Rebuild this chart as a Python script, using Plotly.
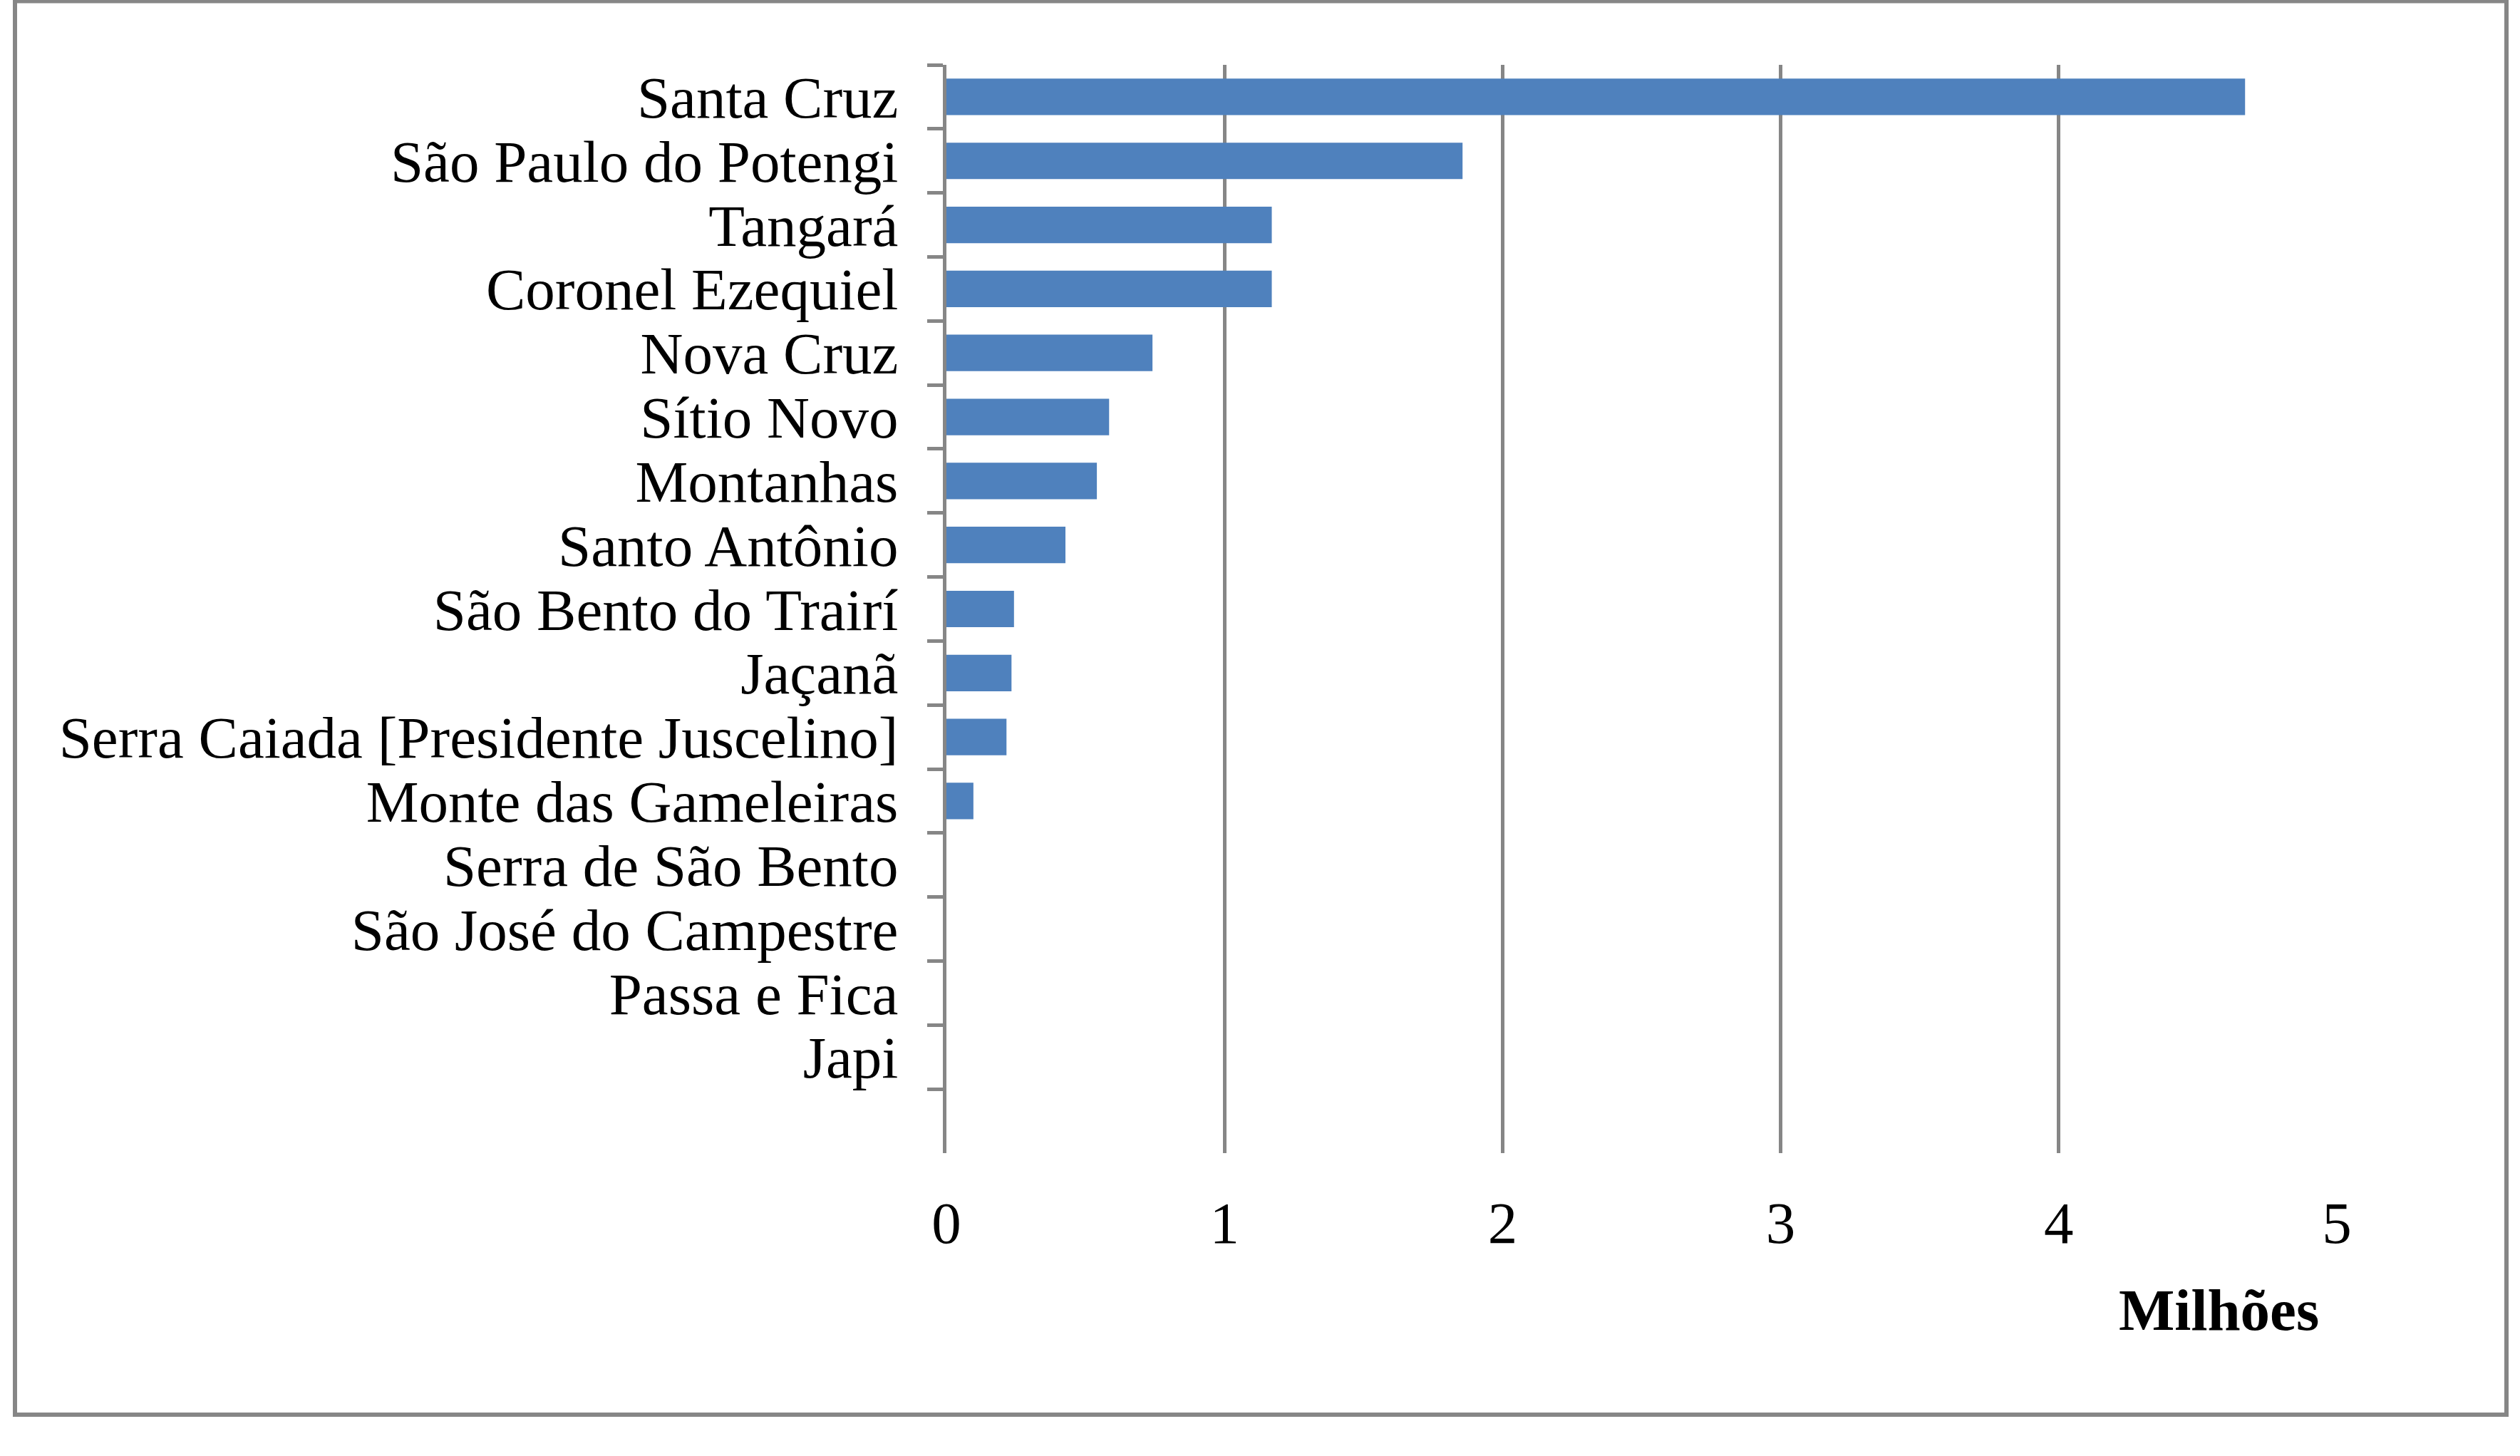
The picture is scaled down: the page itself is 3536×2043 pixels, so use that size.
import plotly.graph_objects as go

# ---- data ----
categories = [
    "Santa Cruz", "São Paulo do Potengi", "Tangará", "Coronel Ezequiel",
    "Nova Cruz", "Sítio Novo", "Montanhas", "Santo Antônio",
    "São Bento do Trairí", "Jaçanã", "Serra Caiada [Presidente Juscelino]",
    "Monte das Gameleiras", "Serra de São Bento", "São José do Campestre",
    "Passa e Fica", "Japi", " ",
]
values_millions = [
    4.67, 1.856, 1.17, 1.17,
    0.741, 0.585, 0.541, 0.428,
    0.243, 0.234, 0.216,
    0.097, 0, 0,
    0, 0, None,
]
x_tick_values = [0, 1, 2, 3, 4, 5]
x_tick_labels = ["0", "1", "2", "3", "4", "5"]
x_unit_label = "Milhões"

# ---- geometry (pixels) ----
W, H = 3536, 2043
PL, PR, PT, PB = 1328, 3279, 91, 1618
GRAY = "#868686"
FONT = "Liberation Serif"
FS = 83


def px_x(x):
    return (x - PL) / (PR - PL)


def px_y(y):
    return (PB - y) / (PB - PT)


fig = go.Figure(
    go.Bar(
        x=values_millions,
        y=categories,
        orientation="h",
        marker=dict(color="#4F81BD", line=dict(width=0)),
        hoverinfo="x+y",
    )
)

fig.update_layout(
    width=W,
    height=H,
    margin=dict(l=PL, r=W - PR, t=PT, b=H - PB, autoexpand=False),
    paper_bgcolor="white",
    plot_bgcolor="white",
    bargap=0.43,
    showlegend=False,
    font=dict(family=FONT, size=FS, color="black"),
    xaxis=dict(
        range=[0, 5],
        tickvals=x_tick_values,
        ticktext=x_tick_labels,
        showgrid=True,
        gridcolor=GRAY,
        gridwidth=5,
        zeroline=False,
        showline=False,
        ticks="outside",
        ticklen=25,
        tickcolor="rgba(0,0,0,0)",
        tickfont=dict(family=FONT, size=FS, color="black"),
        automargin=False,
    ),
    yaxis=dict(
        type="category",
        categoryorder="array",
        categoryarray=categories,
        range=[len(categories) - 0.5, -0.5],
        tickmode="linear",
        tick0=0,
        dtick=1,
        showgrid=False,
        zeroline=False,
        showline=True,
        linecolor=GRAY,
        linewidth=5,
        ticks="outside",
        tickson="boundaries",
        ticklen=22,
        tickwidth=5,
        tickcolor=GRAY,
        ticklabelstandoff=46,
        tickfont=dict(family=FONT, size=FS, color="black"),
        automargin=False,
    ),
    annotations=[
        dict(
            text="<b>" + x_unit_label + "</b>",
            xref="paper", yref="paper",
            x=px_x(3113), y=px_y(1838),
            xanchor="center", yanchor="middle",
            showarrow=False,
            font=dict(family=FONT, size=FS, color="black"),
        )
    ],
    shapes=[
        dict(
            type="rect",
            xref="paper", yref="paper",
            x0=px_x(21), x1=px_x(3517),
            y0=px_y(1985), y1=px_y(1.5),
            line=dict(color=GRAY, width=6),
            fillcolor="rgba(0,0,0,0)",
            layer="below",
        )
    ],
)

fig.write_html(
    "out.html",
    config={"displayModeBar": False},
    post_script="document.body.style.margin='0';document.body.style.overflow='hidden';",
)
